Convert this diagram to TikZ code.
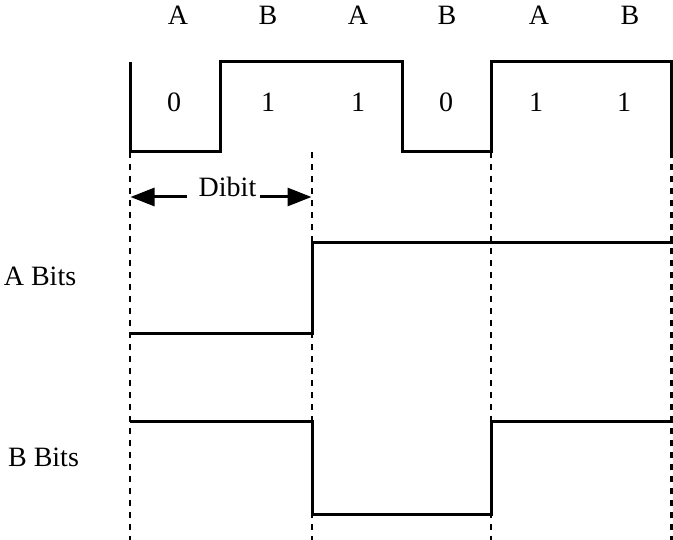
\documentclass[tikz,border=0pt]{standalone}
\usepackage{fontspec}
\setmainfont{Liberation Serif}
\usetikzlibrary{arrows.meta}
\begin{document}
\begin{tikzpicture}[x=1bp,y=-1bp,
  sig/.style={line width=3bp,line cap=butt,line join=miter},
  grid/.style={line width=2.8bp,dash pattern=on 6bp off 6bp},
  lbl/.style={anchor=base,inner sep=0pt,font=\fontsize{28bp}{30bp}\selectfont},
  dimarrow/.style={line width=3bp,-{Triangle[length=24bp,width=18bp]}}]
\useasboundingbox (0,0) rectangle (673,540);
% top labels
\foreach \t/\x [count=\i] in {A/178,B/268,A/358,B/447,A/539,B/630}
  \node[lbl] (top\i) at (\x,25) {\t};
\foreach \t/\x [count=\i] in {0/174,1/268,1/358,0/446,1/536,1/624}
  \node[lbl] (bit\i) at (\x,112) {\t};
% combined signal
\draw[sig] (130,62) -- (130,152) -- (220,152) -- (220,62) -- (402,62)
  -- (402,152) -- (491,152) -- (491,62) -- (671.5,62) -- (671.5,152);
% dashed guides
\foreach \x/\n in {130/g1,312/g2,491/g3,671.5/g4}{
  \coordinate (\n t) at (\x,152);
  \coordinate (\n b) at (\x,540);
  \draw[grid] (\n t) -- (\n b);
}
% Dibit
\node[lbl] (dibit) at (227.5,197) {Dibit};
\coordinate (dl) at (130.5,197);
\coordinate (dr) at (311.5,197);
\coordinate (sl) at (187,197);
\coordinate (sr) at (260,197);
\draw[dimarrow] (sl) -- (dl);
\draw[dimarrow] (sr) -- (dr);
% A bits
\node[lbl] (abits) at (40,285) {A Bits};
\draw[sig] (130,333) -- (312,333) -- (312,243) -- (673,243);
% B bits
\node[lbl] (bbits) at (43.5,466.5) {B Bits};
\draw[sig] (130,421) -- (312,421) -- (312,514) -- (491,514) -- (491,421) -- (673,421);
\end{tikzpicture}
\end{document}
